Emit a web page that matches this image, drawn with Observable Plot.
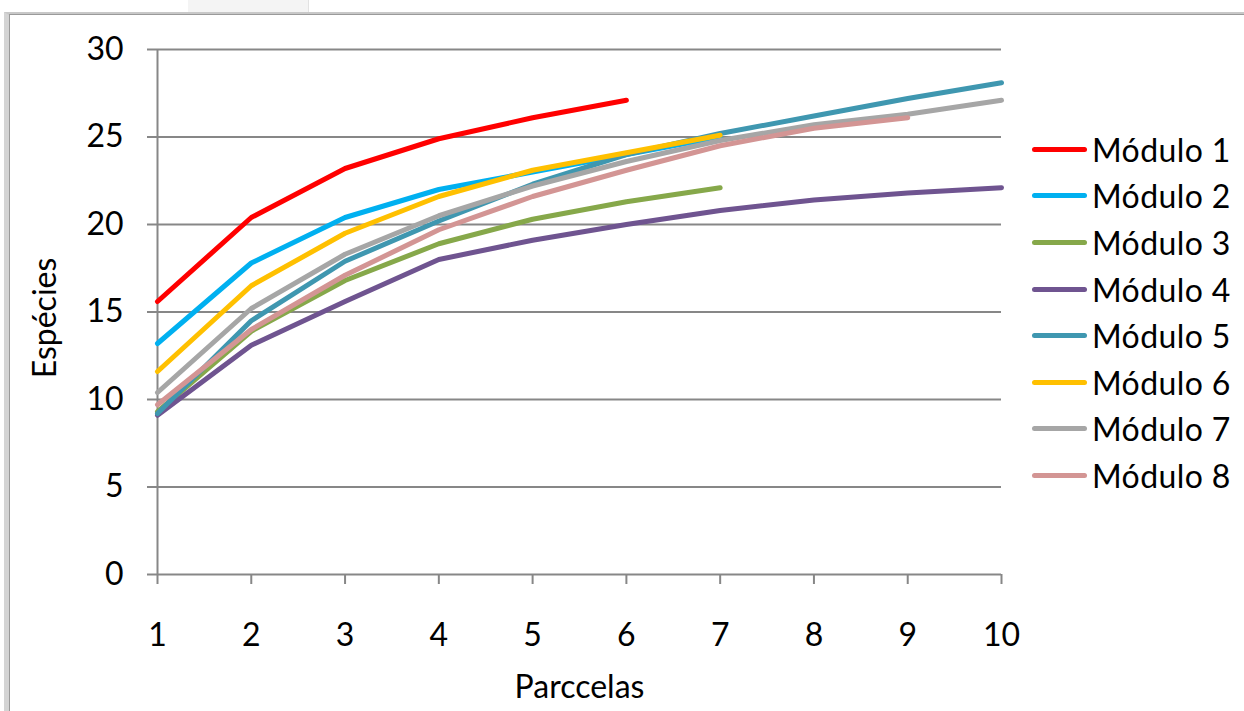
<!DOCTYPE html>
<html>
<head>
<meta charset="utf-8">
<script src="https://cdn.jsdelivr.net/npm/d3@7"></script>
<script src="https://cdn.jsdelivr.net/npm/@observablehq/plot@0.6"></script>
<style>
  html, body { margin: 0; padding: 0; background: #fff; }
  #wrap { position: relative; width: 1244px; height: 711px; overflow: hidden; font-family: Lato, "Open Sans", sans-serif; }
  #frame { position: absolute; left: 4px; top: 12px; width: 1250px; height: 720px;
           border-left: 5px solid #d4d4d4; border-top: 3px solid #c8c8c8; box-sizing: border-box; }
  #frame2 { position: absolute; left: 9px; top: 14px; width: 1250px; height: 720px;
           border-left: 1px solid #9a9a9a; border-top: 1px solid #9a9a9a; box-sizing: border-box; }
  #tab { position: absolute; left: 188px; top: 0px; width: 120px; height: 12px; background: #f4f4f4; border-right: 1px solid #e2e2e2; }
  #legend { position: absolute; left: 1032px; top: 126px; }
  .row { display: flex; align-items: center; height: 46.6px; }
  .sw { width: 55px; height: 5px; border-radius: 3px; margin-right: 5px; }
  .lab { font-size: 32px; color: #000; letter-spacing: 0.4px; white-space: nowrap; }
  svg { position: absolute; left: 0; top: 0; }
</style>
</head>
<body>
<div id="wrap">
  <div id="tab"></div>
  <div id="frame"></div>
  <div id="frame2"></div>
  <div id="chart"></div>
  <div id="legend"></div>
</div>
<script>
const parcelas = [1, 2, 3, 4, 5, 6, 7, 8, 9, 10];
const modulos = ["Módulo 1", "Módulo 2", "Módulo 3", "Módulo 4", "Módulo 5", "Módulo 6", "Módulo 7", "Módulo 8"];
const cores = ["#FF0000", "#00B0F0", "#86A84A", "#6F5490", "#3F97B0", "#FFC000", "#A6A6A6", "#D39594"];

const modulo1 = [15.6, 20.4, 23.2, 24.9, 26.1, 27.1];
const modulo2 = [13.2, 17.8, 20.4, 22.0, 23.0, 24.0, 25.0];
const modulo3 = [9.3, 13.9, 16.8, 18.9, 20.3, 21.3, 22.1];
const modulo4 = [9.1, 13.1, 15.6, 18.0, 19.1, 20.0, 20.8, 21.4, 21.8, 22.1];
const modulo5 = [9.2, 14.5, 17.9, 20.2, 22.3, 24.0, 25.2, 26.2, 27.2, 28.1];
const modulo6 = [11.6, 16.5, 19.5, 21.6, 23.1, 24.1, 25.1];
const modulo7 = [10.4, 15.2, 18.3, 20.5, 22.2, 23.6, 24.8, 25.7, 26.3, 27.1];
const modulo8 = [9.7, 14.0, 17.1, 19.7, 21.6, 23.1, 24.5, 25.5, 26.1];

const yTicks = [0, 5, 10, 15, 20, 25, 30];
const xTitle = "Parccelas";
const yTitle = "Espécies";

const series = [modulo1, modulo2, modulo3, modulo4, modulo5, modulo6, modulo7, modulo8];
const data = series.flatMap((vals, i) => vals.map((v, j) => ({modulo: modulos[i], x: parcelas[j], y: v})));

const gridColor = "#878787";

const chart = Plot.plot({
  width: 1244,
  height: 711,
  marginLeft: 157,
  marginRight: 243,
  marginTop: 49,
  marginBottom: 137,
  style: {fontFamily: "Lato, 'Open Sans', sans-serif", fontSize: "32px", color: "#000", background: "transparent"},
  x: {domain: [1, 10], ticks: parcelas, label: null},
  y: {domain: [0, 30], ticks: yTicks, label: null},
  color: {domain: modulos, range: cores},
  marks: [
    Plot.ruleY(yTicks, {x1: 1, x2: 10, stroke: gridColor, strokeWidth: 2}),
    Plot.ruleX([1], {y1: 0, y2: 30, stroke: gridColor, strokeWidth: 2}),
    Plot.axisY({ticks: yTicks, tickSize: 10, tickPadding: 24, stroke: gridColor, strokeWidth: 2, strokeOpacity: 1, fontSize: 32, label: null}),
    Plot.axisX({ticks: parcelas, tickSize: 10, tickPadding: 39, stroke: gridColor, strokeWidth: 2, strokeOpacity: 1, fontSize: 32, label: null}),
    Plot.line(data, {x: "x", y: "y", z: "modulo", stroke: "modulo", strokeWidth: 5, strokeLinecap: "round", strokeLinejoin: "round"}),
    Plot.text([xTitle], {frameAnchor: "bottom", dy: 123, text: d => d, fontSize: 32, textAnchor: "middle"}),
    Plot.text([yTitle], {frameAnchor: "left", dx: -112, dy: 6, rotate: -90, text: d => d, fontSize: 32, textAnchor: "middle"})
  ]
});
document.getElementById("chart").appendChild(chart);

const legend = document.getElementById("legend");
modulos.forEach((m, i) => {
  const row = document.createElement("div");
  row.className = "row";
  const sw = document.createElement("div");
  sw.className = "sw";
  sw.style.background = cores[i];
  const lab = document.createElement("div");
  lab.className = "lab";
  lab.textContent = m;
  row.appendChild(sw);
  row.appendChild(lab);
  legend.appendChild(row);
});
</script>
</body>
</html>
